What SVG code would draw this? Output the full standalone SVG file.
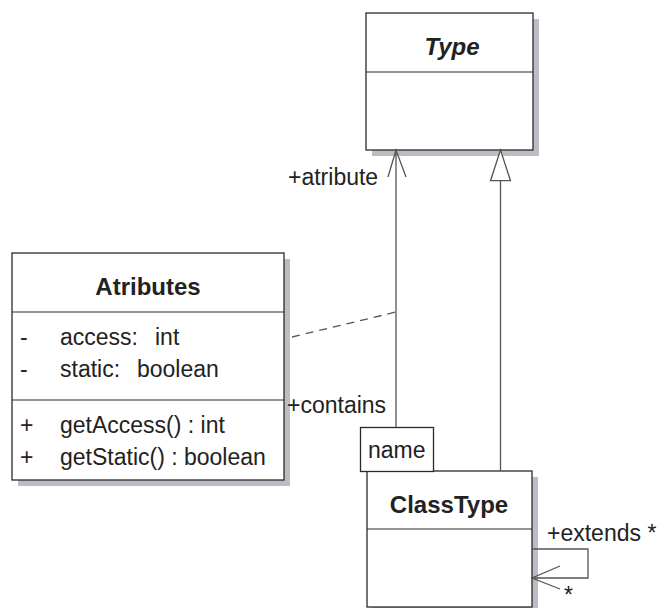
<svg xmlns="http://www.w3.org/2000/svg" width="657" height="608" viewBox="0 0 657 608">
<style>
.box{fill:#fff;stroke:#2a2a2a;stroke-width:1.3}
.sh{fill:#bcbcc4}
.sep{stroke:#2a2a2a;stroke-width:1.1}
.ln{fill:none;stroke:#555;stroke-width:1.3}
.t{font-family:"Liberation Sans",Arial,sans-serif;font-size:23px;fill:#222}
.b{font-weight:bold;font-size:24px}
</style>
<rect width="657" height="608" fill="#fff"/>
<g id="Type">
<rect class="sh" x="372" y="19" width="167" height="137"/>
<rect class="box" x="366" y="13" width="167" height="137"/>
<line class="sep" x1="366" y1="72" x2="533" y2="72"/>
<text class="t b" x="452" y="55" text-anchor="middle" font-style="italic">Type</text>
</g>
<g id="Atributes">
<rect class="sh" x="18" y="259" width="272" height="227"/>
<rect class="box" x="12" y="253" width="272" height="227"/>
<line class="sep" x1="12" y1="312" x2="284" y2="312"/>
<line class="sep" x1="12" y1="400" x2="284" y2="400"/>
<text class="t b" x="148" y="295" text-anchor="middle">Atributes</text>
<text class="t" x="20" y="345">-</text>
<text class="t" x="60" y="345">access:<tspan x="155">int</tspan></text>
<text class="t" x="20" y="377">-</text>
<text class="t" x="60" y="377">static:<tspan x="137">boolean</tspan></text>
<text class="t" x="20" y="433">+</text>
<text class="t" x="60" y="433">getAccess() : int</text>
<text class="t" x="20" y="465">+</text>
<text class="t" x="60" y="465">getStatic() : boolean</text>
</g>
<g id="ClassType">
<rect class="sh" x="372" y="477" width="166" height="131"/>
<rect class="box" x="367" y="471" width="165" height="136"/>
<line class="sep" x1="367" y1="529" x2="532" y2="529"/>
<text class="t b" x="449" y="513" text-anchor="middle">ClassType</text>
</g>
<g id="name">
<rect class="box" x="360.5" y="427.5" width="73" height="44"/>
<text class="t" x="368" y="458">name</text>
</g>
<g id="connectors">
<line class="ln" x1="396" y1="150" x2="396" y2="427"/>
<polyline class="ln" points="388,177 396,150 406,177"/>
<line class="ln" x1="500.5" y1="181" x2="500.5" y2="471"/>
<polygon points="500.5,150 490.5,180.7 510.5,180.7" fill="#fff" stroke="#555" stroke-width="1.3"/>
<line class="ln" x1="292" y1="337" x2="396" y2="312" stroke-dasharray="8,6"/>
<polyline class="ln" points="532,549 588,549 588,578 532,578"/>
<polyline class="ln" points="560,566 532,578 560,589"/>
</g>
<g id="labels">
<text class="t" x="288" y="185">+atribute</text>
<text class="t" x="287" y="413">+contains</text>
<text class="t" x="547" y="541">+extends *</text>
<text class="t" x="564" y="603" font-size="21">*</text>
</g>
</svg>
